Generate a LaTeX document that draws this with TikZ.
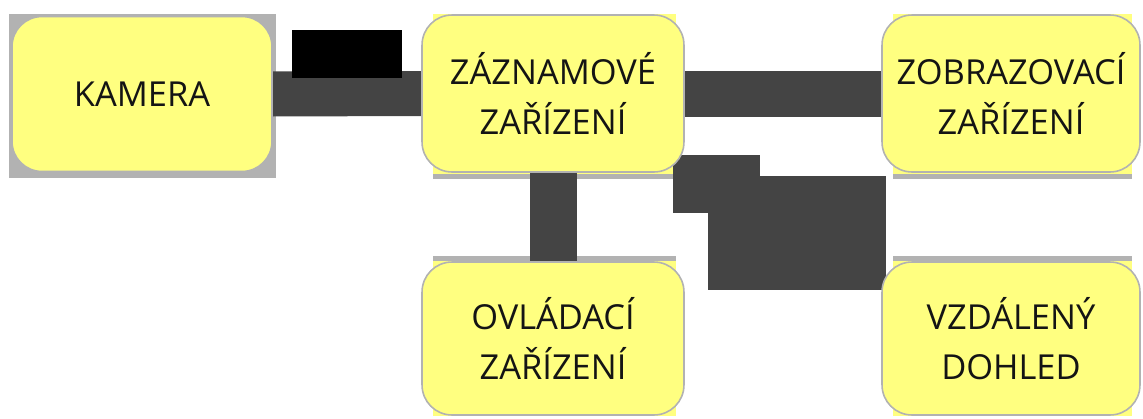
\documentclass[tikz,border=0pt]{standalone}
\usepackage{fontspec}
\setmainfont{Open Sans}
\usepackage{tikz}
\usetikzlibrary{backgrounds}
\definecolor{boxfill}{RGB}{255,255,128}
\definecolor{boxline}{RGB}{178,178,178}
\definecolor{barcol}{RGB}{68,68,68}

\begin{document}
\begin{tikzpicture}[
  x=0.02cm, y=-0.02cm,
  box/.style={draw=boxline, line width=0.9pt, fill=boxfill, rounded corners=0.6cm,
    align=center, minimum width=5.24cm, minimum height=3.14cm, inner sep=0pt,
    font=\fontsize{19.6}{28.4}\selectfont, text=black!92},
  backing/.style={fill=boxfill},
  strip/.style={fill=boxline},
  bar/.style={draw=barcol, line width=#1*0.02cm},
  block/.style={fill=barcol}
]
\useasboundingbox (0,0) rectangle (1143,419);

\node[box, minimum width=5.2cm, minimum height=3.1cm] (kamera) at (142,94) {KAMERA};
\node[box] (zaznam) at (553,93.5) {ZÁZNAMOVÉ\\ZAŘÍZENÍ};
\node[box, minimum width=5.16cm] (zobraz) at (1011,93.5) {ZOBRAZOVACÍ\\ZAŘÍZENÍ};
\node[box, minimum height=3.06cm] (ovladac) at (553,338.5) {OVLÁDACÍ\\ZAŘÍZENÍ};
\node[box, minimum width=5.16cm, minimum height=3.06cm] (dohled) at (1011,338.5) {VZDÁLENÝ\\DOHLED};

\begin{scope}[on background layer]
% grey plate behind the camera, strips under/over the other boxes
\fill[strip] ([shift={(-2,-2)}]kamera.north west) rectangle ([shift={(3,6)}]kamera.south east);
\foreach \n in {zaznam,zobraz} {
  \fill[backing] ([shift={(12,0)}]\n.north west) rectangle ([shift={(-9,6)}]\n.south east);
  \fill[strip] ([shift={(12,1)}]\n.south west) rectangle ([shift={(-9,6)}]\n.south east);
}
\foreach \n in {ovladac,dohled} {
  \fill[backing] ([shift={(12,-5)}]\n.north west) rectangle ([shift={(-9,0)}]\n.south east);
  \fill[strip] ([shift={(12,-5)}]\n.north west) rectangle ([shift={(-9,0)}]\n.north east);
}

\draw[bar=45] (kamera.east) -- (zaznam.west);
\draw[bar=46] (zaznam.east) -- (zobraz.west);
\draw[bar=47] ([yshift=2]zaznam.south) -- ([yshift=-2]ovladac.north);
\fill[block] ([shift={(-12,-18)}]zaznam.south east) rectangle ++(87,58);
\fill[block] ([shift={(5,29)}]dohled.north west) rectangle ++(-178,-114);
\fill[black] (292,30) rectangle (402,78);
\end{scope}
\end{tikzpicture}
\end{document}
